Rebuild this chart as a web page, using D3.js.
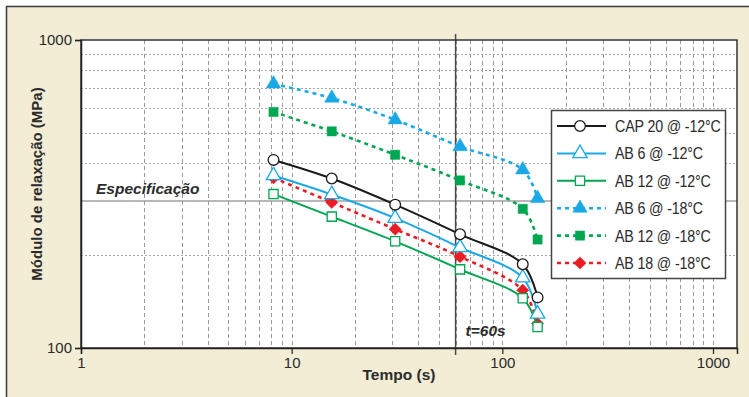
<!DOCTYPE html>
<html>
<head>
<meta charset="utf-8">
<script src="https://cdn.jsdelivr.net/npm/d3@7"></script>
<style>
  body { margin: 0; background: #fff; }
  text { font-family: "Liberation Sans", Arial, sans-serif; fill: #2b2b2b; }
</style>
</head>
<body>
<script>
// tempo (s) for each reading
var times = [8.2, 15.5, 31, 63, 125, 147];

var seriesNames = ["CAP 20 @ -12°C", "AB 6 @ -12°C", "AB 12 @ -12°C",
                   "AB 6 @ -18°C", "AB 12 @ -18°C", "AB 18 @ -18°C"];

// modulo de relaxacao (MPa)
var cap20_12 = [408, 355, 292, 234, 187, 146];
var ab6_12   = [363, 315, 264, 212, 169, 129];
var ab12_12  = [316, 267, 222, 180, 145, 117];
var ab6_18   = [720, 648, 551, 451, 379, 306];
var ab12_18  = [584, 505, 424, 350, 283, 225];
var ab18_18  = [357, 297, 243, 198, 154, 120];

var xTicks = [1, 10, 100, 1000];
var yTicks = [100, 1000];
var especificacao = 300;
var tRef = 60;

var width = 749, height = 397;

var svg = d3.select("body").append("svg")
    .attr("width", width)
    .attr("height", height);

// beige frame
svg.append("rect")
    .attr("x", 0).attr("y", 0).attr("width", width).attr("height", height)
    .attr("fill", "#fff");
svg.append("rect")
    .attr("x", 6.5).attr("y", 6.5).attr("width", 800).attr("height", 500)
    .attr("fill", "#f3edd6")
    .attr("stroke", "#3a3a3a")
    .attr("stroke-width", 1.5);

var x = d3.scaleLog().domain([1, 1300]).range([81, 737]);
var y = d3.scaleLog().domain([100, 1000]).range([348, 40]);

// plot area
svg.append("rect")
    .attr("x", x.range()[0]).attr("y", y.range()[1])
    .attr("width", x.range()[1] - x.range()[0])
    .attr("height", y.range()[0] - y.range()[1])
    .attr("fill", "#fff");

// grid
var xGrid = [];
[1, 10, 100, 1000].forEach(function(d) {
  for (var k = 1; k < 10; k++) {
    var v = d * k;
    if (v > 1 && v < 1300) xGrid.push(v);
  }
});
svg.append("g").selectAll("line")
    .data(xGrid)
  .enter().append("line")
    .attr("x1", function(d) { return Math.round(x(d)) + 0.5; })
    .attr("x2", function(d) { return Math.round(x(d)) + 0.5; })
    .attr("y1", y.range()[1]).attr("y2", y.range()[0])
    .attr("stroke", "#9a9a9a")
    .attr("stroke-dasharray", "4,3");

var yGrid = d3.range(200, 1000, 100).filter(function(d) { return d != especificacao; });
svg.append("g").selectAll("line")
    .data(yGrid)
  .enter().append("line")
    .attr("x1", x.range()[0]).attr("x2", x.range()[1])
    .attr("y1", function(d) { return Math.round(y(d)) + 0.5; })
    .attr("y2", function(d) { return Math.round(y(d)) + 0.5; })
    .attr("stroke", "#a8a8a8")
    .attr("stroke-dasharray", "2,2");

// specification line
svg.append("line")
    .attr("x1", x.range()[0]).attr("x2", x.range()[1])
    .attr("y1", y(especificacao)).attr("y2", y(especificacao))
    .attr("stroke", "#a0a0a0")
    .attr("stroke-width", 1.5);

svg.append("text")
    .attr("x", 96).attr("y", y(especificacao) - 7)
    .style("font-size", "15.5px")
    .style("font-weight", "bold")
    .style("font-style", "italic")
    .text("Especificação");

// t = 60 s line
svg.append("line")
    .attr("x1", x(tRef)).attr("x2", x(tRef))
    .attr("y1", 34).attr("y2", 355)
    .attr("stroke", "#4a4a4a")
    .attr("stroke-width", 1.5);

svg.append("text")
    .attr("x", x(tRef) + 10).attr("y", 336)
    .style("font-size", "15.5px")
    .style("font-weight", "bold")
    .style("font-style", "italic")
    .text("t=60s");

// series
var blue = "#1ba9e6", green = "#00a651", red = "#ec1c24", black = "#1a1a1a";

var series = [
  { name: seriesNames[5], values: ab18_18, color: red,   dash: "4,4", marker: "diamond",  fill: red },
  { name: seriesNames[4], values: ab12_18, color: green, dash: "4,4", marker: "square",   fill: green },
  { name: seriesNames[3], values: ab6_18,  color: blue,  dash: "4,4", marker: "triangle", fill: blue },
  { name: seriesNames[2], values: ab12_12, color: green, dash: null,  marker: "square",   fill: "#fff" },
  { name: seriesNames[1], values: ab6_12,  color: blue,  dash: null,  marker: "triangle", fill: "#fff" },
  { name: seriesNames[0], values: cap20_12, color: black, dash: null, marker: "circle",   fill: "#fff" }
];

var symbolType = {
  circle: d3.symbolCircle,
  triangle: d3.symbolTriangle,
  square: d3.symbolSquare,
  diamond: d3.symbolSquare
};
var symbolSize = { circle: 90, triangle: 90, square: 85, diamond: 75 };

var line = d3.line()
    .x(function(d) { return x(d[0]); })
    .y(function(d) { return y(d[1]); })
    .curve(d3.curveCatmullRom.alpha(0.5));

function drawMarker(g, s, px, py) {
  g.append("path")
      .attr("transform", "translate(" + px + "," + py + ")" +
            (s.marker == "diamond" ? " rotate(45)" : ""))
      .attr("d", d3.symbol().type(symbolType[s.marker]).size(symbolSize[s.marker])())
      .attr("fill", s.fill)
      .attr("stroke", s.color)
      .attr("stroke-width", s.fill == "#fff" ? 1.3 : 0.5);
}

series.forEach(function(s) {
  var pts = times.map(function(t, i) { return [t, s.values[i]]; });
  var g = svg.append("g");
  g.append("path")
      .datum(pts)
      .attr("d", line)
      .attr("fill", "none")
      .attr("stroke", s.color)
      .attr("stroke-width", s.dash ? 2.6 : 2)
      .attr("stroke-dasharray", s.dash);
  pts.forEach(function(p) {
    drawMarker(g, s, x(p[0]), y(p[1]));
  });
});

// plot border
svg.append("rect")
    .attr("x", x.range()[0]).attr("y", y.range()[1])
    .attr("width", x.range()[1] - x.range()[0])
    .attr("height", y.range()[0] - y.range()[1])
    .attr("fill", "none")
    .attr("stroke", "#333")
    .attr("stroke-width", 1.5);

// axes
var yAxis = svg.append("g")
    .attr("transform", "translate(" + x.range()[0] + ",0)")
    .call(d3.axisLeft(y).tickValues(yTicks).tickFormat(d3.format("d")).tickSize(6).tickPadding(3));
var xAxis = svg.append("g")
    .attr("transform", "translate(0," + y.range()[0] + ")")
    .call(d3.axisBottom(x).tickValues(xTicks).tickFormat(d3.format("d")).tickSize(6).tickPadding(3));

[xAxis, yAxis].forEach(function(a) {
  a.select(".domain").attr("stroke", "#222").attr("stroke-width", 1.5);
  a.selectAll(".tick line").attr("stroke", "#222").attr("stroke-width", 1.2);
  a.selectAll(".tick text")
      .style("font-family", "'Liberation Sans', Arial, sans-serif")
      .style("font-size", "15px")
      .attr("fill", "#2b2b2b");
});

// axis titles
svg.append("text")
    .attr("x", 399).attr("y", 380)
    .attr("text-anchor", "middle")
    .style("font-size", "15.5px")
    .style("font-weight", "bold")
    .text("Tempo (s)");

svg.append("text")
    .attr("transform", "translate(42,184) rotate(-90)")
    .attr("text-anchor", "middle")
    .style("font-size", "15px")
    .style("font-weight", "bold")
    .text("Módulo de relaxação (MPa)");

// legend
var legendOrder = series.slice().reverse();
var legend = svg.append("g");
legend.append("rect")
    .attr("x", 551.5).attr("y", 110.5)
    .attr("width", 174).attr("height", 168)
    .attr("fill", "#fff")
    .attr("stroke", "#444")
    .attr("stroke-width", 1.5);

legendOrder.forEach(function(s, i) {
  var ly = 126 + i * 27.4;
  var g = legend.append("g");
  g.append("line")
      .attr("x1", 557).attr("x2", 606)
      .attr("y1", ly).attr("y2", ly)
      .attr("stroke", s.color)
      .attr("stroke-width", s.dash ? 2.6 : 2)
      .attr("stroke-dasharray", s.dash);
  drawMarker(g, s, 580, ly);
  // condensed look, like a narrow face
  g.append("text")
      .attr("transform", "translate(615," + (ly + 6) + ") scale(0.84,1)")
      .style("font-size", "17px")
      .style("letter-spacing", "-0.2px")
      .text(s.name);
});
</script>
</body>
</html>
